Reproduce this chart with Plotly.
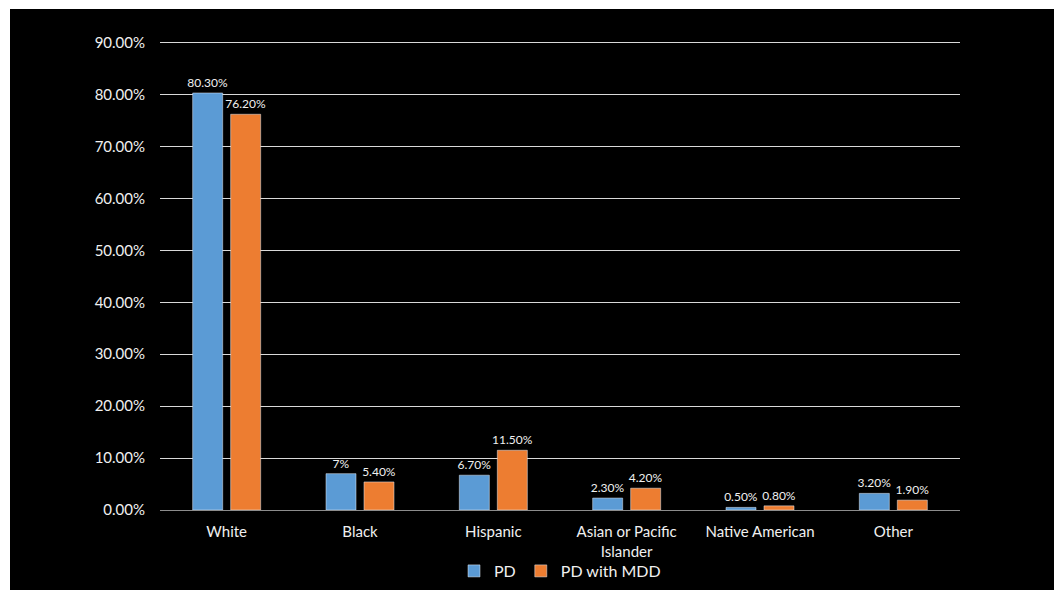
import plotly.graph_objects as go

categories = ["White", "Black", "Hispanic", "Asian or Pacific<br>Islander", "Native American", "Other"]
pd_values = [80.3, 7.0, 6.7, 2.3, 0.5, 3.2]
pd_mdd_values = [76.2, 5.4, 11.5, 4.2, 0.8, 1.9]
pd_labels = ["80.30%", "7%", "6.70%", "2.30%", "0.50%", "3.20%"]
pd_mdd_labels = ["76.20%", "5.40%", "11.50%", "4.20%", "0.80%", "1.90%"]
tick_vals = [0, 10, 20, 30, 40, 50, 60, 70, 80, 90]
tick_text = ["0.00%", "10.00%", "20.00%", "30.00%", "40.00%", "50.00%", "60.00%", "70.00%", "80.00%", "90.00%"]

FONT = "Lato, 'Open Sans', sans-serif"
TXT = "#f0f0f0"

fig = go.Figure()
fig.add_trace(go.Bar(name="PD", x=categories, y=pd_values, text=pd_labels,
                     textposition="outside", marker_color="#5b9bd5", constraintext="none",
                     textfont=dict(size=12, color=TXT, family=FONT), cliponaxis=False))
fig.add_trace(go.Bar(name="PD with MDD", x=categories, y=pd_mdd_values, text=pd_mdd_labels,
                     textposition="outside", marker_color="#ed7d31", constraintext="none",
                     textfont=dict(size=12, color=TXT, family=FONT), cliponaxis=False))

L, R, T, B = 160, 97, 40, 80
W, H = 1057, 590
pw, ph = W - L - R, H - T - B

fig.add_shape(type="rect", xref="paper", yref="paper", layer="below",
              x0=(10 - L) / pw, x1=(1054 - L) / pw,
              y0=(H - B - 590) / ph, y1=(H - B - 9) / ph,
              fillcolor="black", line_width=0)

fig.update_layout(
    width=W, height=H,
    margin=dict(l=L, r=R, t=T, b=B, autoexpand=False),
    paper_bgcolor="white", plot_bgcolor="rgba(0,0,0,0)",
    barmode="group", bargap=0.43, bargroupgap=0.21,
    font=dict(family=FONT, color=TXT, size=15),
    showlegend=True,
    legend=dict(orientation="h", x=0.5, xanchor="center", yref="container",
                y=(H - 571) / H, yanchor="middle",
                font=dict(size=16, color=TXT), bgcolor="rgba(0,0,0,0)", itemwidth=30),
    xaxis=dict(showgrid=False, showline=True, linecolor="#8c8c8c", linewidth=1,
               tickfont=dict(size=15, color=TXT), ticks="", automargin=False,
               ticklabelstandoff=8),
    yaxis=dict(range=[0, 90.5], tickvals=tick_vals, ticktext=tick_text,
               showgrid=True, gridcolor="#d9d9d9", gridwidth=1, zeroline=False,
               tickfont=dict(size=15, color=TXT), ticklabelstandoff=14, automargin=False),
)

fig.write_html("out.html")
